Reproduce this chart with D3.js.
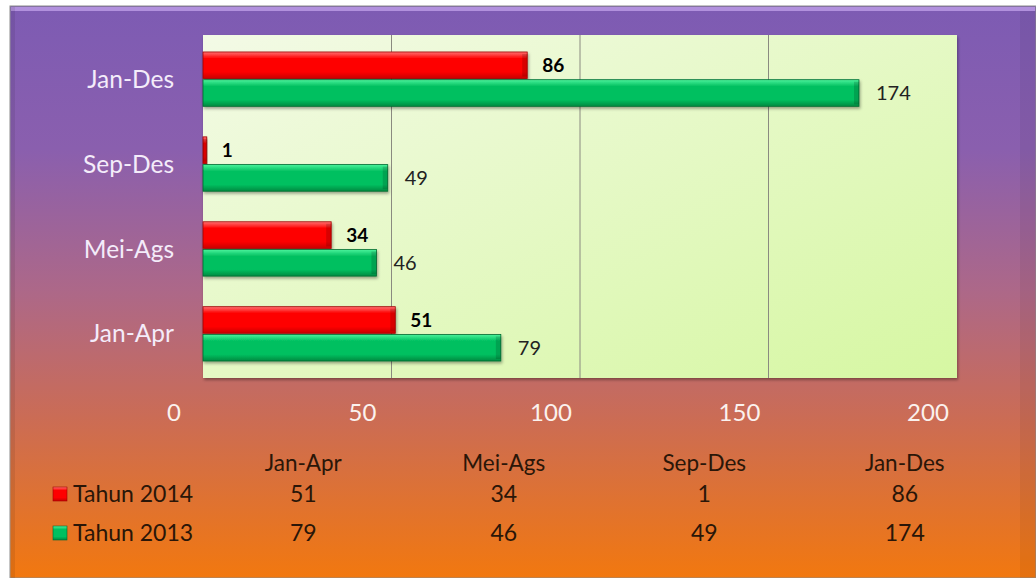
<!DOCTYPE html>
<html>
<head>
<meta charset="utf-8">
<script src="https://cdn.jsdelivr.net/npm/d3@7"></script>
<style>
  body { margin: 0; background: #fff; }
  svg { display: block; font-family: Lato, "Open Sans", sans-serif; }
</style>
</head>
<body>
<script>
// categories from top to bottom of the chart
var periods = ["Jan-Des", "Sep-Des", "Mei-Ags", "Jan-Apr"];
// table column order
var tableCols = ["Jan-Apr", "Mei-Ags", "Sep-Des", "Jan-Des"];
var seriesNames = ["Tahun 2014", "Tahun 2013"];
var values2014 = [51, 34, 1, 86];   // Jan-Apr, Mei-Ags, Sep-Des, Jan-Des
var values2013 = [79, 46, 49, 174];
var xTicks = [0, 50, 100, 150, 200];

var w = 1036, h = 578;
var plot = { left: 203, right: 957, top: 35, bottom: 378 };

var svg = d3.select("body").append("svg")
  .attr("width", w)
  .attr("height", h);

var defs = svg.append("defs");

// background gradient purple -> orange
var bg = defs.append("linearGradient").attr("id", "bg")
  .attr("x1", 0).attr("y1", 0).attr("x2", 0).attr("y2", 1);
[["0%", "#7d5bb3"], ["25%", "#8a5fae"], ["50%", "#ad6888"], ["72%", "#cb6c55"], ["100%", "#f2780f"]]
  .forEach(function(s) { bg.append("stop").attr("offset", s[0]).attr("stop-color", s[1]); });

// plot area light green
var pg = defs.append("linearGradient").attr("id", "plotbg")
  .attr("x1", 0).attr("y1", 0).attr("x2", 1).attr("y2", 1);
pg.append("stop").attr("offset", "0%").attr("stop-color", "#f3fae6");
pg.append("stop").attr("offset", "100%").attr("stop-color", "#d6f7a2");

function barGradient(id, top, mid, bot) {
  var g = defs.append("linearGradient").attr("id", id)
    .attr("x1", 0).attr("y1", 0).attr("x2", 0).attr("y2", 1);
  g.append("stop").attr("offset", "0%").attr("stop-color", top);
  g.append("stop").attr("offset", "25%").attr("stop-color", mid);
  g.append("stop").attr("offset", "75%").attr("stop-color", mid);
  g.append("stop").attr("offset", "100%").attr("stop-color", bot);
}
barGradient("red", "#ff7070", "#fe0000", "#c80000");
barGradient("green", "#4cf39c", "#00c060", "#008a40");

var sh = defs.append("filter").attr("id", "shadow")
  .attr("x", "-5%").attr("y", "-20%").attr("width", "115%").attr("height", "160%");
sh.append("feDropShadow").attr("dx", 1).attr("dy", 2).attr("stdDeviation", 1.5)
  .attr("flood-color", "#000").attr("flood-opacity", 0.35);

// outer frame
svg.append("rect")
  .attr("x", 10).attr("y", 6).attr("width", w - 10).attr("height", h - 6)
  .attr("fill", "url(#bg)")
  .attr("stroke", "#8c8c8c").attr("stroke-width", 1);
// bevel strips
svg.append("rect").attr("x", 11).attr("y", 7).attr("width", w - 12).attr("height", 4)
  .attr("fill", "#c8a6f0").attr("opacity", 0.7);
svg.append("rect").attr("x", 11).attr("y", 7).attr("width", 4).attr("height", h - 7)
  .attr("fill", "#000").attr("opacity", 0.08);
svg.append("rect").attr("x", w - 16).attr("y", 11).attr("width", 16).attr("height", h - 11)
  .attr("fill", "#000").attr("opacity", 0.05);

// scales
var x = d3.scaleLinear().domain([0, 200]).range([plot.left, plot.right]);
var y = d3.scaleBand().domain(periods).range([plot.top, plot.bottom])
  .paddingInner(0.36).paddingOuter(0.2);
var ySub = d3.scaleBand().domain(seriesNames).range([0, y.bandwidth()]).paddingInner(0.04);

// plot area
svg.append("rect")
  .attr("x", plot.left).attr("y", plot.top)
  .attr("width", plot.right - plot.left).attr("height", plot.bottom - plot.top)
  .attr("fill", "url(#plotbg)")
  .attr("filter", "url(#shadow)");

// gridlines
svg.append("g").selectAll("line")
  .data(xTicks.filter(function(d) { return d > 0 && d < 200; }))
  .enter().append("line")
  .attr("x1", function(d) { return x(d); })
  .attr("x2", function(d) { return x(d); })
  .attr("y1", plot.top).attr("y2", plot.bottom)
  .attr("stroke", "#8a8a80").attr("stroke-width", 1);

// bar data
var rows = [];
tableCols.forEach(function(p, i) {
  rows.push({ period: p, series: "Tahun 2014", value: values2014[i] });
  rows.push({ period: p, series: "Tahun 2013", value: values2013[i] });
});

var bars = svg.append("g").selectAll("g")
  .data(rows).enter().append("g")
  .attr("transform", function(d) {
    return "translate(" + x(0) + "," + (y(d.period) + ySub(d.series)) + ")";
  });

bars.append("rect")
  .attr("width", function(d) { return x(d.value) - x(0); })
  .attr("height", ySub.bandwidth())
  .attr("fill", function(d) { return d.series == "Tahun 2014" ? "url(#red)" : "url(#green)"; })
  .attr("stroke", function(d) { return d.series == "Tahun 2014" ? "#a00000" : "#006a30"; })
  .attr("stroke-width", 0.8)
  .attr("filter", "url(#shadow)");

// bevel on bar ends
bars.append("rect")
  .attr("x", function(d) { return Math.max(0, x(d.value) - x(0) - 5); })
  .attr("y", 2)
  .attr("width", function(d) { return Math.min(5, x(d.value) - x(0)); })
  .attr("height", ySub.bandwidth() - 4)
  .attr("fill", "#000").attr("opacity", 0.15);

// value labels
bars.append("text")
  .attr("x", function(d) { return x(d.value) - x(0) + (d.series == "Tahun 2014" ? 15 : 17); })
  .attr("y", ySub.bandwidth() / 2)
  .attr("dy", "0.35em")
  .attr("font-size", function(d) { return d.series == "Tahun 2014" ? 19 : 20; })
  .attr("font-weight", function(d) { return d.series == "Tahun 2014" ? "bold" : "normal"; })
  .attr("fill", function(d) { return d.series == "Tahun 2014" ? "#000" : "#222"; })
  .text(function(d) { return d.value; });

// category labels
svg.append("g").selectAll("text")
  .data(periods).enter().append("text")
  .attr("x", 174)
  .attr("y", function(d) { return y(d) + y.bandwidth() / 2; })
  .attr("dy", "0.35em")
  .attr("text-anchor", "end")
  .attr("font-size", 24.5)
  .attr("fill", "#f4ecfa")
  .text(function(d) { return d; });

// x axis tick labels (sit a bit left of their gridlines, as in the original)
svg.append("g").selectAll("text")
  .data(xTicks).enter().append("text")
  .attr("x", function(d) { return x(d) - 29; })
  .attr("y", 413)
  .attr("dy", "0.35em")
  .attr("text-anchor", "middle")
  .attr("font-size", 24)
  .attr("fill", "#fbf2ee")
  .text(function(d) { return d; });

// data table
var col = d3.scaleBand().domain(tableCols).range([203, 1005]);
var rowY = { header: 463, "Tahun 2014": 494, "Tahun 2013": 533 };
var tableColor = "#2a1608";

svg.append("g").selectAll("text")
  .data(tableCols).enter().append("text")
  .attr("x", function(d) { return col(d) + col.bandwidth() / 2; })
  .attr("y", rowY.header).attr("dy", "0.35em")
  .attr("text-anchor", "middle").attr("font-size", 22.5)
  .attr("fill", tableColor)
  .text(function(d) { return d; });

svg.append("g").selectAll("text")
  .data(rows).enter().append("text")
  .attr("x", function(d) { return col(d.period) + col.bandwidth() / 2; })
  .attr("y", function(d) { return rowY[d.series]; }).attr("dy", "0.35em")
  .attr("text-anchor", "middle").attr("font-size", 23)
  .attr("fill", tableColor)
  .text(function(d) { return d.value; });

// legend keys
var legend = svg.append("g").selectAll("g")
  .data(seriesNames).enter().append("g")
  .attr("transform", function(d) { return "translate(53," + rowY[d] + ")"; });
legend.append("rect")
  .attr("x", 0).attr("y", -7).attr("width", 14).attr("height", 14)
  .attr("fill", function(d) { return d == "Tahun 2014" ? "url(#red)" : "url(#green)"; })
  .attr("stroke", function(d) { return d == "Tahun 2014" ? "#a00000" : "#006a30"; })
  .attr("stroke-width", 0.6);
legend.append("text")
  .attr("x", 20).attr("dy", "0.35em")
  .attr("font-size", 23).attr("fill", tableColor)
  .text(function(d) { return d; });
</script>
</body>
</html>
